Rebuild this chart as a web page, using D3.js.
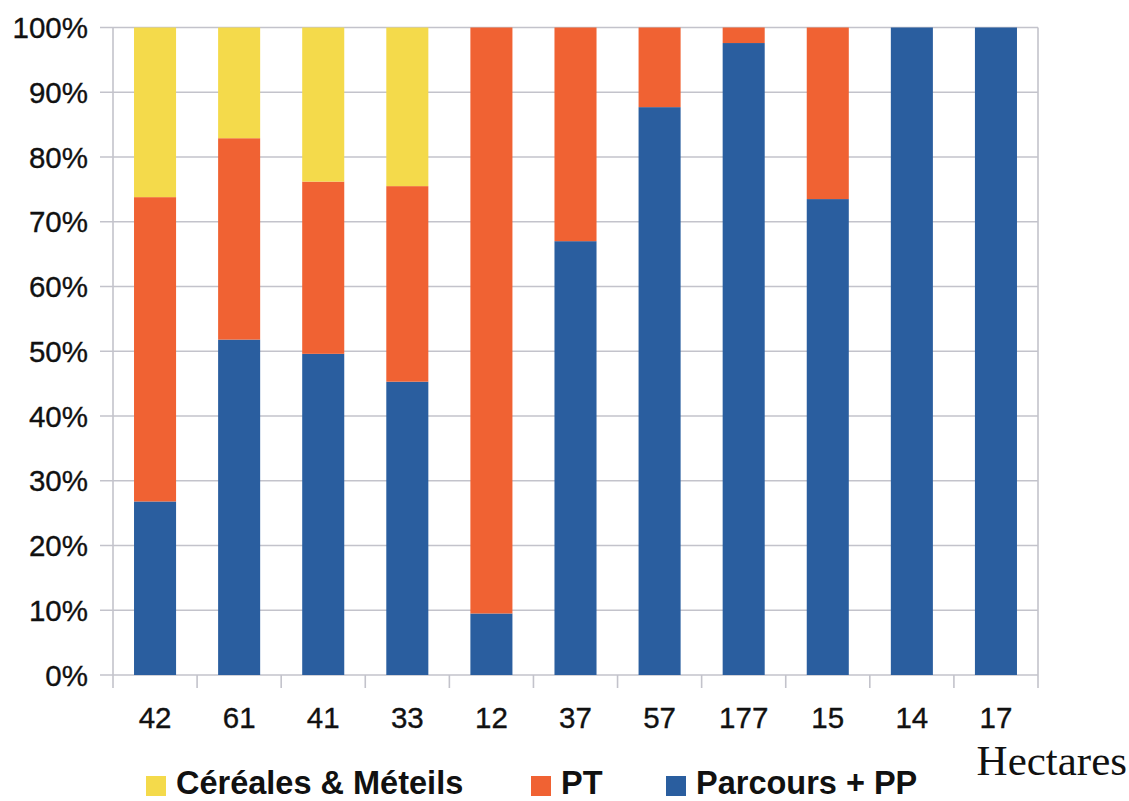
<!DOCTYPE html>
<html><head><meta charset="utf-8">
<script src="https://cdn.jsdelivr.net/npm/d3@7"></script>
<style>body{margin:0;background:#fff}svg{display:block}</style>
</head><body>
<svg id="chart" width="1129" height="801"></svg>
<script>
const categories = ["42","61","41","33","12","37","57","177","15","14","17"];
const parcours = [26.8, 51.8, 49.6, 45.3, 9.5, 67.0, 87.7, 97.6, 73.5, 100, 100];
const pt       = [47.0, 31.1, 26.6, 30.2, 90.5, 33.0, 12.3, 2.4, 26.5, 0, 0];
const cereales = [26.2, 17.1, 23.8, 24.5, 0, 0, 0, 0, 0, 0, 0];
const yTicks = [0,10,20,30,40,50,60,70,80,90,100];
const seriesNames = ["Parcours + PP","PT","Céréales & Méteils"];
const seriesColors = ["#2A5E9F","#F06233","#F4DA4B"];
const legendOrder = [2,1,0];
const xTitle = "Hectares";

const svg = d3.select("#chart");
const L=113, R=1038, T=27.5, B=675;
const x = d3.scaleBand().domain(categories).range([L,R]).paddingInner(0.5).paddingOuter(0.25);
const y = d3.scaleLinear().domain([0,100]).range([B,T]);
const grid = "#C3C3CB";

const rows = categories.map((c,i)=>({cat:c, s0:parcours[i], s1:pt[i], s2:cereales[i]}));
const stack = d3.stack().keys(["s0","s1","s2"])(rows);

// gridlines
svg.append("g").selectAll("line").data(yTicks).join("line")
  .attr("x1",L-13).attr("x2",R).attr("y1",d=>y(d)).attr("y2",d=>y(d))
  .attr("stroke",grid).attr("stroke-width",1.6);
// left axis & right border
svg.append("line").attr("x1",L).attr("x2",L).attr("y1",T).attr("y2",B+13).attr("stroke",grid).attr("stroke-width",1.6);
svg.append("line").attr("x1",R).attr("x2",R).attr("y1",T).attr("y2",B).attr("stroke",grid).attr("stroke-width",1.6);
// x ticks at band boundaries
const bounds = categories.map(c=>x(c)-x.step()*x.paddingInner()/2).concat([R]);
svg.append("g").selectAll("line").data(bounds.slice(1)).join("line")
  .attr("x1",d=>d).attr("x2",d=>d).attr("y1",B).attr("y2",B+13)
  .attr("stroke",grid).attr("stroke-width",1.6);

// bars
svg.append("g").selectAll("g").data(stack).join("g")
  .attr("fill",(d,i)=>seriesColors[i])
  .selectAll("rect").data(d=>d).join("rect")
  .attr("x",d=>x(d.data.cat)).attr("width",x.bandwidth())
  .attr("y",d=>y(d[1])).attr("height",d=>Math.max(0,y(d[0])-y(d[1])));

const sans = "Liberation Sans, Arial, sans-serif";
// y labels
svg.append("g").selectAll("text").data(yTicks).join("text")
  .attr("x",88).attr("y",d=>y(d)).attr("dy","0.36em").attr("text-anchor","end")
  .attr("font-family",sans).attr("font-size",29.5).attr("fill","#111")
  .attr("stroke","#111").attr("stroke-width",0.35)
  .text(d=>d+"%");
// x labels
svg.append("g").selectAll("text").data(categories).join("text")
  .attr("x",d=>x(d)+x.bandwidth()/2).attr("y",728).attr("text-anchor","middle")
  .attr("font-family",sans).attr("font-size",29.5).attr("fill","#111")
  .attr("stroke","#111").attr("stroke-width",0.35)
  .text(d=>d);
// x title
svg.append("text").attr("x",1127).attr("y",775).attr("text-anchor","end")
  .attr("font-family","Liberation Serif, Times New Roman, serif").attr("font-size",43).attr("fill","#111")
  .text(xTitle);
// legend
const legX = [146, 531, 666];
const leg = svg.append("g").selectAll("g").data(legendOrder).join("g")
  .attr("transform",(d,i)=>`translate(${legX[i]},776)`);
leg.append("rect").attr("width",20).attr("height",20).attr("fill",d=>seriesColors[d]);
leg.append("text").attr("x",30).attr("y",18)
  .attr("font-family",sans).attr("font-weight","bold").attr("font-size",32.5).attr("fill","#111")
  .text(d=>seriesNames[d]);
</script>
</body></html>
